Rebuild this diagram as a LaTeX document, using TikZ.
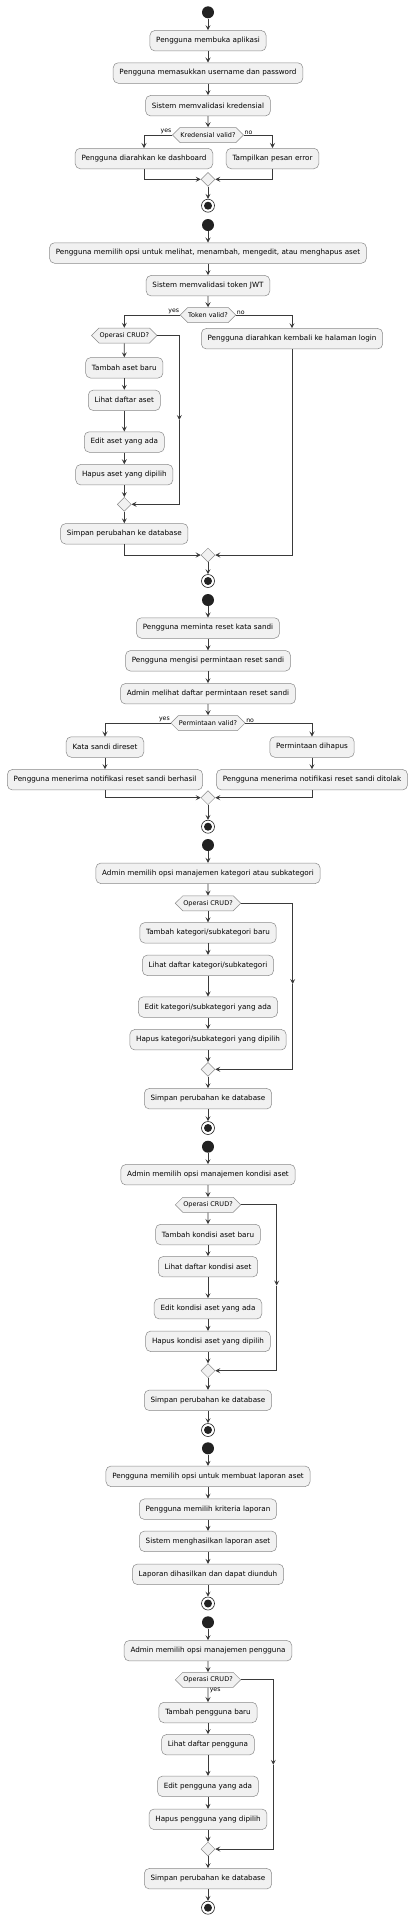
\documentclass[tikz,border=0pt]{standalone}
\usepackage{fontspec}
\setmainfont{DejaVu Sans}
\usetikzlibrary{shapes.geometric,shapes.symbols,arrows.meta}
\definecolor{boxc}{HTML}{F1F1F1}
\definecolor{bordc}{HTML}{8A8A8A}
\definecolor{linec}{HTML}{3A3A3A}
\definecolor{dotc}{HTML}{222222}
\tikzset{
 act/.style={draw=bordc, fill=boxc, rounded corners=5pt, line width=0.5pt, minimum height=20.5pt, inner xsep=6.3pt, inner ysep=0pt, font=\fontsize{7.2}{8.6}\selectfont},
 hexa/.style={signal, signal to=west and east, signal pointer angle=90, draw=bordc, fill=boxc, line width=0.5pt, minimum height=15pt, inner xsep=0.5pt, inner ysep=0pt, font=\fontsize{6.5}{8}\selectfont},
 merge/.style={diamond, aspect=1, draw=bordc, fill=boxc, line width=0.5pt, minimum size=14pt, inner sep=0pt},
 startc/.style={circle, fill=dotc, minimum size=12pt, inner sep=0pt},
 endc/.style={circle, draw=dotc, line width=0.6pt, fill=white, minimum size=13pt, inner sep=0pt, path picture={\fill[dotc] (path picture bounding box.center) circle (4pt);}},
 conn/.style={draw=linec, line width=0.7pt, -{Stealth[length=5pt,width=5pt,inset=2pt]}},
 plain/.style={draw=linec, line width=0.7pt},
 lbl/.style={font=\fontsize{6.2}{7}\selectfont, inner sep=0.6pt}
}
\begin{document}
\begin{tikzpicture}[x=1pt,y=-1pt]
\fill[white] (0,0) rectangle (413,1920);
\useasboundingbox (0,0) rectangle (413,1920);
% ---------- Section 1
\node[startc] (s1) at (208,12.3) {};
\node[act] (a1) at (208,40.7) {Pengguna membuka aplikasi};
\node[act] (a2) at (208,73) {Pengguna memasukkan username dan password};
\node[act] (a3) at (208,105.7) {Sistem memvalidasi kredensial};
\node[hexa] (d1) at (208,135) {Kredensial valid?};
\node[act] (a4) at (144,158.5) {Pengguna diarahkan ke dashboard};
\node[act] (a5) at (272.5,158.5) {Tampilkan pesan error};
\node[merge] (m1) at (208,179.3) {};
\node[endc] (e1) at (208,205.7) {};
\node[lbl, anchor=south east] (y1) at (d1.west) {yes};
\node[lbl, anchor=south west] (n1) at (d1.east) {no};
\draw[conn] (s1) -- (a1);
\draw[conn] (a1) -- (a2);
\draw[conn] (a2) -- (a3);
\draw[conn] (a3) -- (d1);
\draw[conn] (d1.west) -| (a4.north);
\draw[conn] (d1.east) -| (a5.north);
\draw[conn] (a4.south) |- (m1.west);
\draw[conn] (a5.south) |- (m1.east);
\draw[conn] (m1) -- (e1);
% ---------- Section 2
\node[startc] (s2) at (208,225) {};
\node[act] (b1) at (208,253) {Pengguna memilih opsi untuk melihat, menambah, mengedit, atau menghapus aset};
\node[act] (b2) at (208,285.7) {Sistem memvalidasi token JWT};
\node[hexa] (d2) at (208,315) {Token valid?};
\node[hexa] (h2) at (124.3,335.5) {Operasi CRUD?};
\node[act] (b3) at (124.3,367.8) {Tambah aset baru};
\node[act] (b4) at (124.3,400.3) {Lihat daftar aset};
\node[act] (b5) at (124.3,442) {Edit aset yang ada};
\node[act] (b6) at (124.3,474.7) {Hapus aset yang dipilih};
\node[merge] (m2a) at (124.3,504.3) {};
\node[act] (b7) at (124.3,533.8) {Simpan perubahan ke database};
\node[act] (b8) at (292,338.7) {Pengguna diarahkan kembali ke halaman login};
\node[merge] (m2b) at (208,555) {};
\node[endc] (e2) at (208,581) {};
\node[lbl, anchor=south east] (y2) at (d2.west) {yes};
\node[lbl, anchor=south west] (n2) at (d2.east) {no};
\coordinate (l2) at (179.3,420);
\draw[conn] (s2) -- (b1);
\draw[conn] (b1) -- (b2);
\draw[conn] (b2) -- (d2);
\draw[conn] (d2.west) -| (h2.north);
\draw[conn] (d2.east) -| (b8.north);
\draw[conn] (h2) -- (b3);
\draw[conn] (b3) -- (b4);
\draw[conn] (b4) -- (b5);
\draw[conn] (b5) -- (b6);
\draw[conn] (b6) -- (m2a);
\draw[conn] (h2.east) -| (l2);
\draw[conn] (l2) |- (m2a.east);
\draw[conn] (m2a) -- (b7);
\draw[conn] (b7.south) |- (m2b.west);
\draw[conn] (b8.south) |- (m2b.east);
\draw[conn] (m2b) -- (e2);
% ---------- Section 3
\node[startc] (s3) at (208,600) {};
\node[act] (c1) at (208,628) {Pengguna meminta reset kata sandi};
\node[act] (c2) at (208,660.8) {Pengguna mengisi permintaan reset sandi};
\node[act] (c3) at (208,693.7) {Admin melihat daftar permintaan reset sandi};
\node[hexa] (d3) at (208,723) {Permintaan valid?};
\node[act] (c4) at (105,747) {Kata sandi direset};
\node[act] (c5) at (105,779.7) {Pengguna menerima notifikasi reset sandi berhasil};
\node[act] (c6) at (312,747) {Permintaan dihapus};
\node[act] (c7) at (312,779.7) {Pengguna menerima notifikasi reset sandi ditolak};
\node[merge] (m3) at (208,797.7) {};
\node[endc] (e3) at (208,826.7) {};
\node[lbl, anchor=south east] (y3) at (d3.west) {yes};
\node[lbl, anchor=south west] (n3) at (d3.east) {no};
\draw[conn] (s3) -- (c1);
\draw[conn] (c1) -- (c2);
\draw[conn] (c2) -- (c3);
\draw[conn] (c3) -- (d3);
\draw[conn] (d3.west) -| (c4.north);
\draw[conn] (d3.east) -| (c6.north);
\draw[conn] (c4) -- (c5);
\draw[conn] (c6) -- (c7);
\draw[conn] (c5.south) |- (m3.west);
\draw[conn] (c7.south) |- (m3.east);
\draw[conn] (m3) -- (e3);
% ---------- Section 4
\node[startc] (s4) at (208,845) {};
\node[act] (k1) at (208,873.3) {Admin memilih opsi manajemen kategori atau subkategori};
\node[hexa] (h4) at (208,903.3) {Operasi CRUD?};
\node[act] (k2) at (208,932.8) {Tambah kategori/subkategori baru};
\node[act] (k3) at (208,965.3) {Lihat daftar kategori/subkategori};
\node[act] (k4) at (208,1007) {Edit kategori/subkategori yang ada};
\node[act] (k5) at (208,1039.7) {Hapus kategori/subkategori yang dipilih};
\node[merge] (m4) at (208,1069.3) {};
\node[act] (k6) at (208,1098.7) {Simpan perubahan ke database};
\node[endc] (e4) at (208,1128) {};
\coordinate (l4) at (292.7,984);
\draw[conn] (s4) -- (k1);
\draw[conn] (k1) -- (h4);
\draw[conn] (h4) -- (k2);
\draw[conn] (k2) -- (k3);
\draw[conn] (k3) -- (k4);
\draw[conn] (k4) -- (k5);
\draw[conn] (k5) -- (m4);
\draw[conn] (h4.east) -| (l4);
\draw[conn] (l4) |- (m4.east);
\draw[conn] (m4) -- (k6);
\draw[conn] (k6) -- (e4);
% ---------- Section 5
\node[startc] (s5) at (208,1146.7) {};
\node[act] (q1) at (208,1174.7) {Admin memilih opsi manajemen kondisi aset};
\node[hexa] (h5) at (208,1204.8) {Operasi CRUD?};
\node[act] (q2) at (208,1234.5) {Tambah kondisi aset baru};
\node[act] (q3) at (208,1266.7) {Lihat daftar kondisi aset};
\node[act] (q4) at (208,1308.7) {Edit kondisi aset yang ada};
\node[act] (q5) at (208,1341.3) {Hapus kondisi aset yang dipilih};
\node[merge] (m5) at (208,1370.7) {};
\node[act] (q6) at (208,1400.3) {Simpan perubahan ke database};
\node[endc] (e5) at (208,1430) {};
\coordinate (l5) at (276.7,1285.5);
\draw[conn] (s5) -- (q1);
\draw[conn] (q1) -- (h5);
\draw[conn] (h5) -- (q2);
\draw[conn] (q2) -- (q3);
\draw[conn] (q3) -- (q4);
\draw[conn] (q4) -- (q5);
\draw[conn] (q5) -- (m5);
\draw[conn] (h5.east) -| (l5);
\draw[conn] (l5) |- (m5.east);
\draw[conn] (m5) -- (q6);
\draw[conn] (q6) -- (e5);
% ---------- Section 6
\node[startc] (s6) at (208,1448.3) {};
\node[act] (r1) at (208,1476.3) {Pengguna memilih opsi untuk membuat laporan aset};
\node[act] (r2) at (208,1509.2) {Pengguna memilih kriteria laporan};
\node[act] (r3) at (208,1541.3) {Sistem menghasilkan laporan aset};
\node[act] (r4) at (208,1574.3) {Laporan dihasilkan dan dapat diunduh};
\node[endc] (e6) at (208,1603.5) {};
\draw[conn] (s6) -- (r1);
\draw[conn] (r1) -- (r2);
\draw[conn] (r2) -- (r3);
\draw[conn] (r3) -- (r4);
\draw[conn] (r4) -- (e6);
% ---------- Section 7
\node[startc] (s7) at (208,1622.3) {};
\node[act] (u1) at (208,1650.7) {Admin memilih opsi manajemen pengguna};
\node[hexa] (h7) at (208,1679.8) {Operasi CRUD?};
\node[lbl, anchor=north west] (y7) at ([xshift=1pt]h7.south) {yes};
\node[act] (u2) at (208,1712.5) {Tambah pengguna baru};
\node[act] (u3) at (208,1744.7) {Lihat daftar pengguna};
\node[act] (u4) at (208,1786.3) {Edit pengguna yang ada};
\node[act] (u5) at (208,1819.3) {Hapus pengguna yang dipilih};
\node[merge] (m7) at (208,1849) {};
\node[act] (u6) at (208,1878.7) {Simpan perubahan ke database};
\node[endc] (e7) at (208,1907.7) {};
\coordinate (l7) at (273.3,1764.8);
\draw[conn] (s7) -- (u1);
\draw[conn] (u1) -- (h7);
\draw[conn] (h7) -- (u2);
\draw[conn] (u2) -- (u3);
\draw[conn] (u3) -- (u4);
\draw[conn] (u4) -- (u5);
\draw[conn] (u5) -- (m7);
\draw[conn] (h7.east) -| (l7);
\draw[conn] (l7) |- (m7.east);
\draw[conn] (m7) -- (u6);
\draw[conn] (u6) -- (e7);
\end{tikzpicture}
\end{document}
